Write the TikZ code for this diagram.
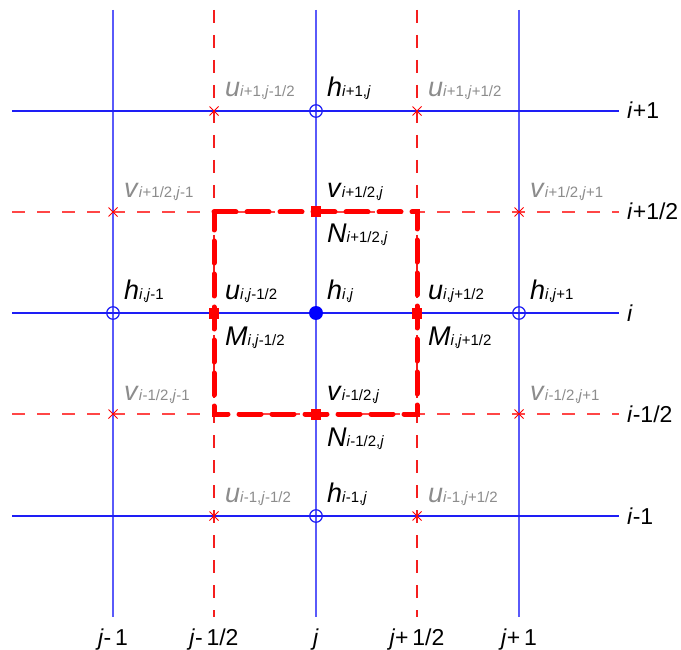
\documentclass[tikz,border=0pt]{standalone}
\usepackage{fontspec}
\setmainfont{Liberation Sans}
\usetikzlibrary{shapes.misc}
\definecolor{hblue}{RGB}{30,30,245}
\definecolor{vblue}{RGB}{90,90,250}
\definecolor{hred}{RGB}{255,70,70}
\definecolor{vred}{RGB}{245,30,30}
\definecolor{lgray}{RGB}{140,140,140}
\newcommand{\myi}{\textit{i}}
\newcommand{\myj}{\textit{j}}
\newcommand{\mysb}[1]{{\fontsize{15}{15}\selectfont #1}}
\tikzset{
  gridsolidh/.style={draw=hblue, line width=1.2pt},
  gridsolidv/.style={draw=vblue, line width=1.2pt},
  griddashh/.style={draw=hred, line width=1.2pt, dash pattern=on 13pt off 12pt},
  griddashv/.style={draw=vred, line width=1.2pt, dash pattern=on 13pt off 12pt},
  cellbox/.style={draw=red, line width=5pt, line cap=round, dash pattern=on 22pt off 11pt},
  hopen/.style={circle, draw=hblue, line width=1.2pt, minimum size=12.5pt, inner sep=0pt},
  hfull/.style={circle, fill=blue, minimum size=14pt, inner sep=0pt},
  uvcross/.style={cross out, draw=red, line width=1pt, minimum size=8pt, inner sep=0pt},
  fluxsq/.style={rectangle, fill=red, minimum width=10.5pt, minimum height=11pt, inner sep=0pt},
  lbl/.style={anchor=base west, inner sep=0pt, font=\fontsize{27}{27}\selectfont},
  glbl/.style={lbl, text=lgray},
  sidelbl/.style={inner sep=0pt, font=\fontsize{23}{23}\selectfont},
}
\begin{document}
\begin{tikzpicture}[x=1pt,y=-1pt]
\useasboundingbox[fill=white] (0,0) rectangle (681,650);
% line end coordinates and grid points
\foreach \n/\yy in {1/111,2/212,3/313,4/414,5/516}{
  \coordinate (hl\n) at (12,\yy);
  \coordinate (hr\n) at (619,\yy);
}
\foreach \n/\xx in {1/113,2/214,3/316,4/417,5/519}{
  \coordinate (vt\n) at (\xx,10);
  \coordinate (vb\n) at (\xx,617);
}
\foreach \r/\yy in {1/111,2/212,3/313,4/414,5/516}{
  \foreach \c/\xx in {1/113,2/214,3/316,4/417,5/519}{
    \coordinate (p\r\c) at (\xx,\yy);
  }
}
% vertical grid lines
\draw[gridsolidv] (vt1) -- (vb1);
\draw[gridsolidv] (vt3) -- (vb3);
\draw[gridsolidv] (vt5) -- (vb5);
\draw[griddashv] (vt2) -- (vb2);
\draw[griddashv] (vt4) -- (vb4);
% horizontal grid lines
\draw[gridsolidh] (hl1) -- (hr1);
\draw[gridsolidh] (hl3) -- (hr3);
\draw[gridsolidh] (hl5) -- (hr5);
\draw[griddashh] (hl2) -- (hr2);
\draw[griddashh] (hl4) -- (hr4);
% control volume
\draw[cellbox] (p22) -- (p24) -- (p44) -- (p42) -- cycle;
% markers
\node[hopen] (m13) at (p13) {};
\node[hopen] (m31) at (p31) {};
\node[hopen] (m35) at (p35) {};
\node[hopen] (m53) at (p53) {};
\node[hfull] (m33) at (p33) {};
\node[uvcross] (m12) at (p12) {};
\node[uvcross] (m14) at (p14) {};
\node[uvcross] (m21) at (p21) {};
\node[uvcross] (m25) at (p25) {};
\node[uvcross] (m41) at (p41) {};
\node[uvcross] (m45) at (p45) {};
\node[uvcross] (m52) at (p52) {};
\node[uvcross] (m54) at (p54) {};
\node[fluxsq] (m23) at (p23) {};
\node[fluxsq] (m43) at (p43) {};
\node[fluxsq] (m32) at (p32) {};
\node[fluxsq] (m34) at (p34) {};
% labels row i+1
\node[glbl] (t12) at ([shift={(11,-14)}]p12) {\textit{u}\mysb{\myi+1,\myj-1/2}};
\node[lbl]  (t13) at ([shift={(11,-14)}]p13) {\textit{h}\mysb{\myi+1,\myj}};
\node[glbl] (t14) at ([shift={(11,-14)}]p14) {\textit{u}\mysb{\myi+1,\myj+1/2}};
% row i+1/2
\node[glbl] (t21) at ([shift={(11,-14)}]p21) {\textit{v}\mysb{\myi+1/2,\myj-1}};
\node[lbl]  (t23) at ([shift={(11,-14)}]p23) {\textit{v}\mysb{\myi+1/2,\myj}};
\node[glbl] (t25) at ([shift={(11,-14)}]p25) {\textit{v}\mysb{\myi+1/2,\myj+1}};
\node[lbl]  (n23) at ([shift={(11,31)}]p23) {\textit{N}\mysb{\myi+1/2,\myj}};
% row i
\node[lbl] (t31) at ([shift={(11,-14)}]p31) {\textit{h}\mysb{\myi,\myj-1}};
\node[lbl] (t32) at ([shift={(11,-14)}]p32) {\textit{u}\mysb{\myi,\myj-1/2}};
\node[lbl] (t33) at ([shift={(11,-14)}]p33) {\textit{h}\mysb{\myi,\myj}};
\node[lbl] (t34) at ([shift={(11,-14)}]p34) {\textit{u}\mysb{\myi,\myj+1/2}};
\node[lbl] (t35) at ([shift={(11,-14)}]p35) {\textit{h}\mysb{\myi,\myj+1}};
\node[lbl] (n32) at ([shift={(11,32)}]p32) {\textit{M}\mysb{\myi,\myj-1/2}};
\node[lbl] (n34) at ([shift={(11,32)}]p34) {\textit{M}\mysb{\myi,\myj+1/2}};
% row i-1/2
\node[glbl] (t41) at ([shift={(11,-14)}]p41) {\textit{v}\mysb{\myi-1/2,\myj-1}};
\node[lbl]  (t43) at ([shift={(11,-14)}]p43) {\textit{v}\mysb{\myi-1/2,\myj}};
\node[glbl] (t45) at ([shift={(11,-14)}]p45) {\textit{v}\mysb{\myi-1/2,\myj+1}};
\node[lbl]  (n43) at ([shift={(11,32)}]p43) {\textit{N}\mysb{\myi-1/2,\myj}};
% row i-1
\node[glbl] (t52) at ([shift={(11,-14)}]p52) {\textit{u}\mysb{\myi-1,\myj-1/2}};
\node[lbl]  (t53) at ([shift={(11,-14)}]p53) {\textit{h}\mysb{\myi-1,\myj}};
\node[glbl] (t54) at ([shift={(11,-14)}]p54) {\textit{u}\mysb{\myi-1,\myj+1/2}};
% side labels
\node[sidelbl, anchor=base west] (r1) at ([shift={(8,8)}]hr1) {\myi+1};
\node[sidelbl, anchor=base west] (r2) at ([shift={(8,8)}]hr2) {\myi+1/2};
\node[sidelbl, anchor=base west] (r3) at ([shift={(8,8)}]hr3) {\myi};
\node[sidelbl, anchor=base west] (r4) at ([shift={(8,8)}]hr4) {\myi-1/2};
\node[sidelbl, anchor=base west] (r5) at ([shift={(8,8)}]hr5) {\myi-1};
% bottom labels
\node[sidelbl, anchor=base] (b1) at ([shift={(0,28)}]vb1) {\myj-\,1};
\node[sidelbl, anchor=base] (b2) at ([shift={(0,28)}]vb2) {\myj-\,1/2};
\node[sidelbl, anchor=base] (b3) at ([shift={(0,28)}]vb3) {\myj};
\node[sidelbl, anchor=base] (b4) at ([shift={(0,28)}]vb4) {\myj+\,1/2};
\node[sidelbl, anchor=base] (b5) at ([shift={(0,28)}]vb5) {\myj+\,1};
\end{tikzpicture}
\end{document}
